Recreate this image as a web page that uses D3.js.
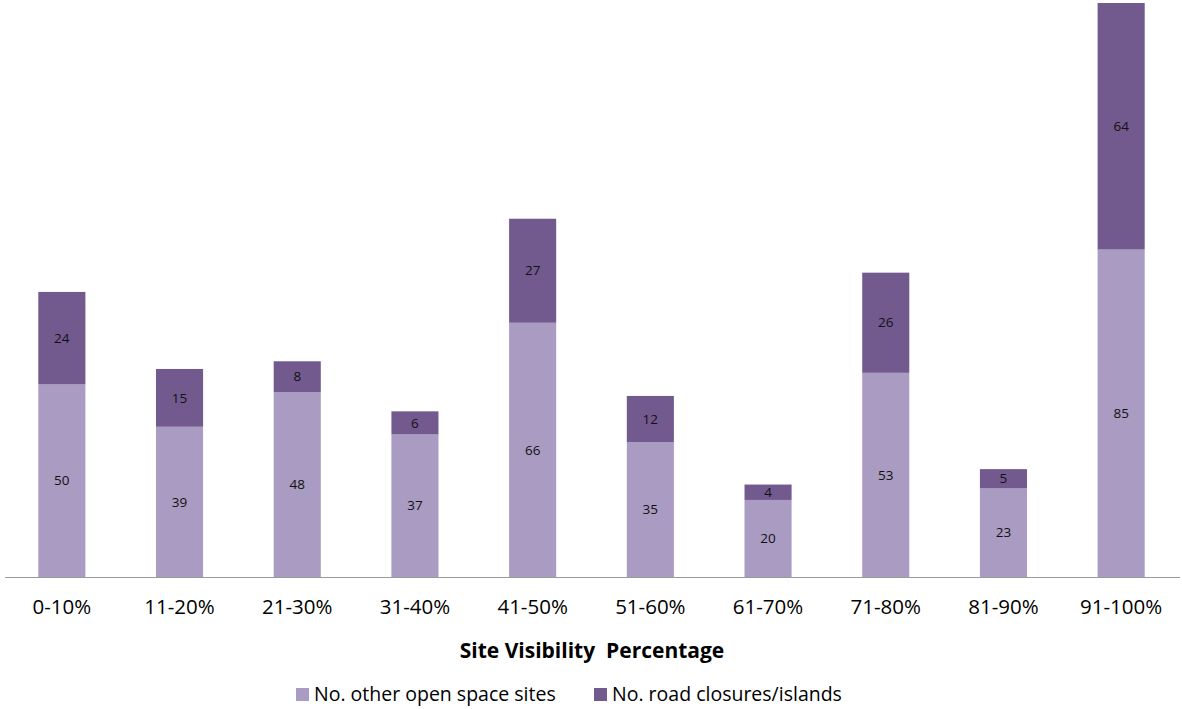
<!DOCTYPE html>
<html>
<head>
<meta charset="utf-8">
<script src="https://cdn.jsdelivr.net/npm/d3@7"></script>
<style>
  html, body { margin: 0; padding: 0; background: #fff; }
  svg { display: block; font-family: "Open Sans", "Liberation Sans", sans-serif; }
</style>
</head>
<body>
<svg id="chart" width="1182" height="709"></svg>
<script>
// Site visibility bands and counts per band
const categories = ["0-10%", "11-20%", "21-30%", "31-40%", "41-50%", "51-60%", "61-70%", "71-80%", "81-90%", "91-100%"];
const otherOpenSpace = [50, 39, 48, 37, 66, 35, 20, 53, 23, 85];
const roadClosures = [24, 15, 8, 6, 27, 12, 4, 26, 5, 64];
const seriesNames = ["No. other open space sites", "No. road closures/islands"];
const seriesColors = ["#A99BC1", "#725A8F"];

const svg = d3.select("#chart");
const baseY = 577;

const rows = categories.map((c, i) => ({ cat: c, a: otherOpenSpace[i], b: roadClosures[i] }));
const stack = d3.stack().keys(["a", "b"])(rows);

const x = d3.scaleBand().domain(categories).range([3, 1180]).paddingInner(0.6).paddingOuter(0.3);
const y = d3.scaleLinear().domain([0, 149]).range([baseY, 3]);

// Stacked bars
const layers = svg.append("g").selectAll("g").data(stack).join("g")
  .attr("fill", (d, i) => seriesColors[i]);

layers.selectAll("rect").data(d => d).join("rect")
  .attr("x", d => x(d.data.cat))
  .attr("width", x.bandwidth())
  .attr("y", d => y(d[1]))
  .attr("height", d => y(d[0]) - y(d[1]));

// Value labels centred in each segment
layers.selectAll("text").data(d => d).join("text")
  .attr("x", d => x(d.data.cat) + x.bandwidth() / 2)
  .attr("y", d => (y(d[0]) + y(d[1])) / 2)
  .attr("dy", "0.35em")
  .attr("text-anchor", "middle")
  .attr("font-size", 13.5)
  .attr("fill", "#111")
  .text(d => d[1] - d[0]);

// Category axis
const xAxis = svg.append("g").attr("transform", `translate(0,${baseY})`)
  .call(d3.axisBottom(x).tickSize(0).tickPadding(0));
xAxis.select(".domain").remove();
xAxis.selectAll("text")
  .attr("y", 30).attr("dy", "0.35em")
  .attr("font-size", 20.5).attr("fill", "#000")
  .style("font-family", "'Open Sans', sans-serif");
svg.append("line")
  .attr("x1", 5).attr("x2", 1180)
  .attr("y1", baseY + 0.5).attr("y2", baseY + 0.5)
  .attr("stroke", "#9a9a9a").attr("stroke-width", 1);

// Axis title
svg.append("text")
  .attr("x", 592).attr("y", 651).attr("dy", "0.35em")
  .attr("text-anchor", "middle")
  .attr("font-size", 21).attr("font-weight", "bold").attr("fill", "#000")
  .attr("xml:space", "preserve")
  .text("Site Visibility  Percentage");

// Legend
const legendX = [296, 594];
const legend = svg.append("g").selectAll("g").data(seriesNames).join("g")
  .attr("transform", (d, i) => `translate(${legendX[i]},688)`);
legend.append("rect").attr("width", 13).attr("height", 13)
  .attr("fill", (d, i) => seriesColors[i]);
legend.append("text").attr("x", 18).attr("y", 6).attr("dy", "0.35em")
  .attr("font-size", 19.5).attr("fill", "#000")
  .text(d => d);
</script>
</body>
</html>
